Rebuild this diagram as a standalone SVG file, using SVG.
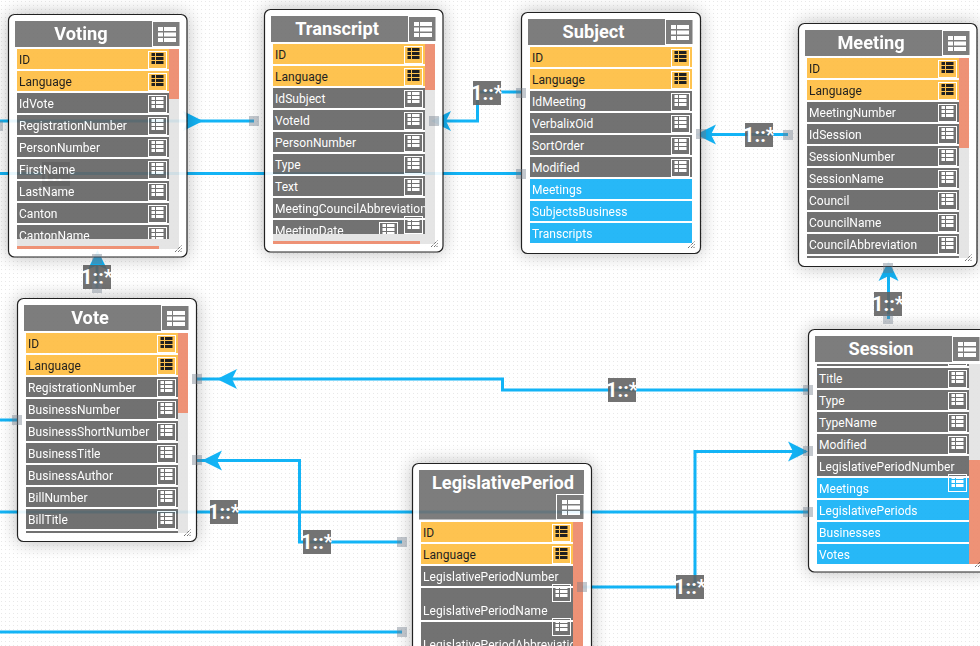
<svg xmlns="http://www.w3.org/2000/svg" width="980" height="646" viewBox="0 0 980 646">
<style>
text{font-family:Roboto,"Liberation Sans",sans-serif}
.node{opacity:.91}
.card{fill:#fff;stroke:#0c0c0c;stroke-width:1.2;filter:drop-shadow(0 0 9px rgba(0,0,0,.3))}
.hd{fill:#717171}
.hb{fill:none;stroke:#fff;stroke-width:1}
.ttl{font-size:18.200px;font-weight:700;fill:#fff;text-anchor:middle}
.k{fill:#febd3f}.d{fill:#646464}.b{fill:#12b1f7}
.tk{font-size:12px;letter-spacing:.05px;fill:#0a0a0a}.td{font-size:12px;letter-spacing:.05px;fill:#fff}
.trk{fill:#e3e3e3}.thm{fill:#ed8869}
.ln{fill:none;stroke:#13b4f6;stroke-width:3}
.ah{fill:#13b4f6}
.lb{fill:#606060;opacity:.88}
.lt{font-size:20px;font-weight:700;fill:#fff;text-anchor:middle}
.end{fill:#6f7c8a;opacity:.42}
.gr{stroke:#222;stroke-width:1;stroke-dasharray:1 1;fill:none}
</style>
<defs>
<pattern id="dots" width="4" height="4" patternUnits="userSpaceOnUse"><rect width="4" height="4" fill="#fff"/><rect x="1" y="1" width="1" height="1" fill="#e8e8e8"/></pattern>
<g id="iw"><rect x=".5" y=".5" width="18" height="17" fill="none" stroke="#fff"/><g fill="#fff"><rect x="3.500" y="2" width="3.500" height="3"/><rect x="8" y="2" width="7.500" height="3"/><rect x="3.500" y="6" width="3.500" height="3"/><rect x="8" y="6" width="7.500" height="3"/><rect x="3.500" y="10" width="3.500" height="3"/><rect x="8" y="10" width="7.500" height="3"/></g></g>
<g id="ik"><rect x=".5" y=".5" width="18" height="17" fill="none" stroke="#fff"/><g fill="#0a0a0a"><rect x="3.500" y="2" width="3.500" height="3"/><rect x="8" y="2" width="7.500" height="3"/><rect x="3.500" y="6" width="3.500" height="3"/><rect x="8" y="6" width="7.500" height="3"/><rect x="3.500" y="10" width="3.500" height="3"/><rect x="8" y="10" width="7.500" height="3"/></g></g>
<g id="ih"><g fill="#fff"><rect x="5" y="6" width="5" height="4"/><rect x="11" y="6" width="12" height="4"/><rect x="5" y="11.500" width="5" height="4"/><rect x="11" y="11.500" width="12" height="4"/><rect x="5" y="17" width="5" height="4"/><rect x="11" y="17" width="12" height="4"/></g></g>
<path id="grip" class="gr" d="M0 7L7 0M3 7L7 3M5.500 7L7 5.500"/>
<path id="ar" class="ah" d="M0 0L20 -10L15 0L20 10Z"/>
</defs>
<rect width="980" height="646" fill="url(#dots)"/>

<g id="connectors">
<path class="ln" d="M-5 121H254"/>
<use href="#ar" transform="translate(203,121) rotate(180)"/>
<path class="ln" d="M-5 173.500H521"/>
<rect class="lb" x="42" y="162" width="28" height="24"/><text class="lt" x="56" y="181">1::*</text>
<path class="ln" d="M521 92H477.500V121H434"/>
<use href="#ar" transform="translate(431,121)"/>
<path class="ln" d="M788 134.500H701"/>
<use href="#ar" transform="translate(696,134.500)"/>
<path class="ln" d="M888.500 319V268"/>
<use href="#ar" transform="translate(888.500,261) rotate(90)"/>
<path class="ln" d="M97 288V258"/>
<use href="#ar" transform="translate(97.500,250) rotate(90)"/>
<path class="ln" d="M808 390H502.500V379H197"/>
<use href="#ar" transform="translate(217,379)"/>
<path class="ln" d="M402 542H299.500V460.500H197"/>
<use href="#ar" transform="translate(202,460.500)"/>
<path class="ln" d="M-5 512H808"/>
<path class="ln" d="M-5 420H17"/>
<path class="ln" d="M582 587H695V451.500H806"/>
<use href="#ar" transform="translate(808,451.500) rotate(180)"/>
<path class="ln" d="M-5 632H402"/>
<g id="labels">
<rect class="lb" x="83" y="265" width="28" height="24"/><text class="lt" x="97" y="284">1::*</text>
<rect class="lb" x="473" y="81" width="28" height="24"/><text class="lt" x="487" y="100">1::*</text>
<rect class="lb" x="745" y="123" width="28" height="24"/><text class="lt" x="759" y="142">1::*</text>
<rect class="lb" x="874" y="292" width="28" height="24"/><text class="lt" x="888" y="311">1::*</text>
<rect class="lb" x="608" y="378" width="28" height="24"/><text class="lt" x="622" y="397">1::*</text>
<rect class="lb" x="210" y="500" width="28" height="24"/><text class="lt" x="224" y="519">1::*</text>
<rect class="lb" x="303" y="530" width="28" height="24"/><text class="lt" x="317" y="549">1::*</text>
<rect class="lb" x="676" y="575" width="28" height="24"/><text class="lt" x="690" y="594">1::*</text>
</g>
</g>

<g id="node-voting" class="node">
<rect class="card" x="8.500" y="14.500" width="178.500" height="242.500" rx="6"/>
<rect class="hd" x="15" y="21" width="165" height="26"/>
<text class="ttl" x="81" y="40">Voting</text>
<rect class="hb" x="152.500" y="21.500" width="27.500" height="25"/><use href="#ih" x="153" y="21"/>
<rect class="trk" x="169" y="49" width="10" height="200"/><rect class="trk" x="17" y="239" width="152" height="10"/>
<rect class="thm" x="169" y="49" width="10" height="50"/><rect class="thm" x="17" y="246" width="142" height="3"/>
<svg x="17" y="49" width="152" height="190">
<rect class="k" width="152" height="20"/><text class="tk" x="2" y="15">ID</text><use href="#ik" x="131" y="2"/>
<rect class="k" y="22" width="152" height="20"/><text class="tk" x="2" y="37">Language</text><use href="#ik" x="131" y="24"/>
<rect class="d" y="44" width="152" height="20"/><text class="td" x="2" y="59">IdVote</text><use href="#iw" x="131" y="46"/>
<rect class="d" y="66" width="152" height="20"/><text class="td" x="2" y="81">RegistrationNumber</text><use href="#iw" x="131" y="68"/>
<rect class="d" y="88" width="152" height="20"/><text class="td" x="2" y="103">PersonNumber</text><use href="#iw" x="131" y="90"/>
<rect class="d" y="110" width="152" height="20"/><text class="td" x="2" y="125">FirstName</text><use href="#iw" x="131" y="112"/>
<rect class="d" y="132" width="152" height="20"/><text class="td" x="2" y="147">LastName</text><use href="#iw" x="131" y="134"/>
<rect class="d" y="154" width="152" height="20"/><text class="td" x="2" y="169">Canton</text><use href="#iw" x="131" y="156"/>
<rect class="d" y="176" width="152" height="20"/><text class="td" x="2" y="191">CantonName</text><use href="#iw" x="131" y="178"/>
</svg>
<use href="#grip" x="175" y="245"/>
</g>

<g id="node-transcript" class="node">
<rect class="card" x="264.500" y="9.500" width="178.500" height="242.500" rx="6"/>
<rect class="hd" x="271" y="16" width="165" height="26"/>
<text class="ttl" x="337" y="35">Transcript</text>
<rect class="hb" x="408.500" y="16.500" width="27.500" height="25"/><use href="#ih" x="409" y="16"/>
<rect class="trk" x="425" y="44" width="10" height="200"/><rect class="trk" x="273" y="234" width="152" height="10"/>
<rect class="thm" x="425" y="44" width="10" height="46"/><rect class="thm" x="273" y="241" width="147" height="3"/>
<svg x="273" y="44" width="152" height="190">
<rect class="k" width="152" height="20"/><text class="tk" x="2" y="15">ID</text><use href="#ik" x="131" y="2"/>
<rect class="k" y="22" width="152" height="20"/><text class="tk" x="2" y="37">Language</text><use href="#ik" x="131" y="24"/>
<rect class="d" y="44" width="152" height="20"/><text class="td" x="2" y="59">IdSubject</text><use href="#iw" x="131" y="46"/>
<rect class="d" y="66" width="152" height="20"/><text class="td" x="2" y="81">VoteId</text><use href="#iw" x="131" y="68"/>
<rect class="d" y="88" width="152" height="20"/><text class="td" x="2" y="103">PersonNumber</text><use href="#iw" x="131" y="90"/>
<rect class="d" y="110" width="152" height="20"/><text class="td" x="2" y="125">Type</text><use href="#iw" x="131" y="112"/>
<rect class="d" y="132" width="152" height="20"/><text class="td" x="2" y="147">Text</text><use href="#iw" x="131" y="134"/>
<rect class="d" y="154" width="152" height="20"/><text class="td" x="2" y="169">MeetingCouncilAbbreviation</text>
<rect class="d" y="176" width="152" height="20"/><text class="td" x="2" y="191">MeetingDate</text><use href="#iw" x="106" y="178"/>
<use href="#iw" x="131" y="172"/>
</svg>
<use href="#grip" x="431" y="240"/>
</g>

<g id="node-subject" class="node">
<rect class="card" x="521.500" y="12.500" width="179" height="241" rx="6"/>
<rect class="hd" x="528" y="19" width="165" height="26"/>
<text class="ttl" x="593.500" y="38">Subject</text>
<rect class="hb" x="665.500" y="19.500" width="27.500" height="25"/><use href="#ih" x="666" y="19"/>
<svg x="530" y="47" width="162" height="196">
<rect class="k" width="162" height="20"/><text class="tk" x="2" y="15">ID</text><use href="#ik" x="141" y="2"/>
<rect class="k" y="22" width="162" height="20"/><text class="tk" x="2" y="37">Language</text><use href="#ik" x="141" y="24"/>
<rect class="d" y="44" width="162" height="20"/><text class="td" x="2" y="59">IdMeeting</text><use href="#iw" x="141" y="46"/>
<rect class="d" y="66" width="162" height="20"/><text class="td" x="2" y="81">VerbalixOid</text><use href="#iw" x="141" y="68"/>
<rect class="d" y="88" width="162" height="20"/><text class="td" x="2" y="103">SortOrder</text><use href="#iw" x="141" y="90"/>
<rect class="d" y="110" width="162" height="20"/><text class="td" x="2" y="125">Modified</text><use href="#iw" x="141" y="112"/>
<rect class="b" y="132" width="162" height="20"/><text class="td" x="2" y="147">Meetings</text>
<rect class="b" y="154" width="162" height="20"/><text class="td" x="2" y="169">SubjectsBusiness</text>
<rect class="b" y="176" width="162" height="20"/><text class="td" x="2" y="191">Transcripts</text>
</svg>
<use href="#grip" x="688" y="241"/>
</g>

<g id="node-meeting" class="node">
<rect class="card" x="798.500" y="23.500" width="178.500" height="243" rx="6"/>
<rect class="hd" x="805" y="30" width="165" height="26"/>
<text class="ttl" x="871" y="49">Meeting</text>
<rect class="hb" x="942.500" y="30.500" width="27.500" height="25"/><use href="#ih" x="943" y="30"/>
<rect class="trk" x="959" y="58" width="10" height="200"/>
<rect class="thm" x="959" y="58" width="10" height="90"/>
<svg x="807" y="58" width="152" height="200">
<rect class="k" width="152" height="20"/><text class="tk" x="2" y="15">ID</text><use href="#ik" x="131" y="2"/>
<rect class="k" y="22" width="152" height="20"/><text class="tk" x="2" y="37">Language</text><use href="#ik" x="131" y="24"/>
<rect class="d" y="44" width="152" height="20"/><text class="td" x="2" y="59">MeetingNumber</text><use href="#iw" x="131" y="46"/>
<rect class="d" y="66" width="152" height="20"/><text class="td" x="2" y="81">IdSession</text><use href="#iw" x="131" y="68"/>
<rect class="d" y="88" width="152" height="20"/><text class="td" x="2" y="103">SessionNumber</text><use href="#iw" x="131" y="90"/>
<rect class="d" y="110" width="152" height="20"/><text class="td" x="2" y="125">SessionName</text><use href="#iw" x="131" y="112"/>
<rect class="d" y="132" width="152" height="20"/><text class="td" x="2" y="147">Council</text><use href="#iw" x="131" y="134"/>
<rect class="d" y="154" width="152" height="20"/><text class="td" x="2" y="169">CouncilName</text><use href="#iw" x="131" y="156"/>
<rect class="d" y="176" width="152" height="20"/><text class="td" x="2" y="191">CouncilAbbreviation</text><use href="#iw" x="131" y="178"/>
<rect class="d" y="198" width="152" height="20"/>
</svg>
<use href="#grip" x="965" y="254"/>
</g>

<g id="node-vote" class="node">
<rect class="card" x="17.500" y="298.500" width="179" height="243" rx="6"/>
<rect class="hd" x="24" y="305" width="165" height="26"/>
<text class="ttl" x="90" y="324">Vote</text>
<rect class="hb" x="161.500" y="305.500" width="27.500" height="25"/><use href="#ih" x="162" y="305"/>
<rect class="trk" x="178" y="333" width="10" height="200"/>
<rect class="thm" x="178" y="333" width="10" height="80"/>
<svg x="26" y="333" width="152" height="200">
<rect class="k" width="152" height="20"/><text class="tk" x="2" y="15">ID</text><use href="#ik" x="131" y="2"/>
<rect class="k" y="22" width="152" height="20"/><text class="tk" x="2" y="37">Language</text><use href="#ik" x="131" y="24"/>
<rect class="d" y="44" width="152" height="20"/><text class="td" x="2" y="59">RegistrationNumber</text><use href="#iw" x="131" y="46"/>
<rect class="d" y="66" width="152" height="20"/><text class="td" x="2" y="81">BusinessNumber</text><use href="#iw" x="131" y="68"/>
<rect class="d" y="88" width="152" height="20"/><text class="td" x="2" y="103">BusinessShortNumber</text><use href="#iw" x="131" y="90"/>
<rect class="d" y="110" width="152" height="20"/><text class="td" x="2" y="125">BusinessTitle</text><use href="#iw" x="131" y="112"/>
<rect class="d" y="132" width="152" height="20"/><text class="td" x="2" y="147">BusinessAuthor</text><use href="#iw" x="131" y="134"/>
<rect class="d" y="154" width="152" height="20"/><text class="td" x="2" y="169">BillNumber</text><use href="#iw" x="131" y="156"/>
<rect class="d" y="176" width="152" height="20"/><text class="td" x="2" y="191">BillTitle</text><use href="#iw" x="131" y="178"/>
<rect class="d" y="198" width="152" height="20"/>
</svg>
<use href="#grip" x="184" y="529"/>
</g>

<g id="node-session" class="node">
<rect class="card" x="808.500" y="329.500" width="179" height="242.500" rx="6"/>
<rect class="hd" x="815" y="336" width="165" height="26"/>
<text class="ttl" x="881" y="355">Session</text>
<rect class="hb" x="952.500" y="336.500" width="27.500" height="25"/><use href="#ih" x="953" y="336"/>
<rect class="trk" x="969" y="364" width="11" height="200"/>
<rect class="thm" x="969" y="460" width="11" height="104"/>
<svg x="817" y="364" width="152" height="200">
<rect class="d" y="-18" width="152" height="20"/><use href="#iw" x="131" y="-16"/>
<rect class="d" y="4" width="152" height="20"/><text class="td" x="2" y="19">Title</text><use href="#iw" x="131" y="6"/>
<rect class="d" y="26" width="152" height="20"/><text class="td" x="2" y="41">Type</text><use href="#iw" x="131" y="28"/>
<rect class="d" y="48" width="152" height="20"/><text class="td" x="2" y="63">TypeName</text><use href="#iw" x="131" y="50"/>
<rect class="d" y="70" width="152" height="20"/><text class="td" x="2" y="85">Modified</text><use href="#iw" x="131" y="72"/>
<rect class="d" y="92" width="152" height="20"/><text class="td" x="2" y="107">LegislativePeriodNumber</text>
<rect class="b" y="114" width="152" height="20"/><text class="td" x="2" y="129">Meetings</text>
<rect class="b" y="136" width="152" height="20"/><text class="td" x="2" y="151">LegislativePeriods</text>
<rect class="b" y="158" width="152" height="20"/><text class="td" x="2" y="173">Businesses</text>
<rect class="b" y="180" width="152" height="20"/><text class="td" x="2" y="195">Votes</text>
<use href="#iw" x="131" y="110"/>
</svg>
<use href="#grip" x="975" y="560"/>
</g>

<g id="node-legislativeperiod" class="node">
<rect class="card" x="412.500" y="463.500" width="179" height="200" rx="6"/>
<rect class="hd" x="419" y="470" width="165" height="49.500"/>
<text class="ttl" x="503" y="489">LegislativePeriod</text>
<rect class="hb" x="556.500" y="494.500" width="27.500" height="25"/><use href="#ih" x="557" y="494"/>
<rect class="thm" x="573" y="522" width="10" height="124"/>
<svg x="421" y="522" width="152" height="124">
<rect class="k" width="152" height="20"/><text class="tk" x="2" y="15">ID</text><use href="#ik" x="131" y="2"/>
<rect class="k" y="22" width="152" height="20"/><text class="tk" x="2" y="37">Language</text><use href="#ik" x="131" y="24"/>
<rect class="d" y="44" width="152" height="20"/><text class="td" x="2" y="59">LegislativePeriodNumber</text>
<rect class="d" y="66" width="152" height="32"/><text class="td" x="2" y="93">LegislativePeriodName</text>
<rect class="d" y="100" width="152" height="32"/><text class="td" x="2" y="127">LegislativePeriodAbbreviation</text>
<use href="#iw" x="131" y="62"/>
<use href="#iw" x="131" y="96"/>
</svg>
</g>

<g id="connector-ends">
<rect class="end" x="-7" y="121" width="10" height="10"/>
<rect class="end" x="249" y="116" width="10" height="10"/>
<rect class="end" x="516" y="169" width="10" height="10"/>
<rect class="end" x="516" y="88" width="10" height="10"/>
<rect class="end" x="429" y="116" width="10" height="10"/>
<rect class="end" x="696" y="129" width="10" height="10"/>
<rect class="end" x="783" y="130" width="10" height="10"/>
<rect class="end" x="883" y="263" width="10" height="10"/>
<rect class="end" x="883" y="314" width="10" height="10"/>
<rect class="end" x="92" y="254" width="10" height="10"/>
<rect class="end" x="92" y="283" width="10" height="10"/>
<rect class="end" x="192" y="374" width="10" height="10"/>
<rect class="end" x="803" y="385" width="10" height="10"/>
<rect class="end" x="192" y="455" width="10" height="10"/>
<rect class="end" x="397" y="537" width="10" height="10"/>
<rect class="end" x="12" y="415" width="10" height="10"/>
<rect class="end" x="803" y="507" width="10" height="10"/>
<rect class="end" x="803" y="446" width="10" height="10"/>
<rect class="end" x="577" y="582" width="10" height="10"/>
<rect class="end" x="397" y="627" width="10" height="10"/>
</g>
</svg>
